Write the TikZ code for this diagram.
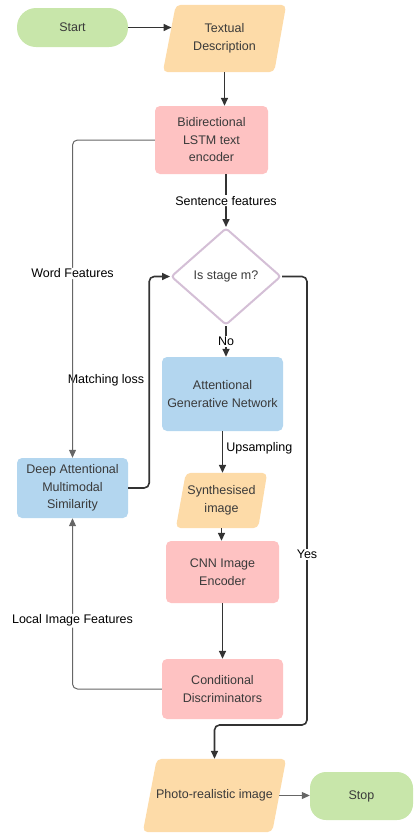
\documentclass[tikz,border=0pt]{standalone}
\usepackage{fontspec}
\setmainfont{Liberation Sans}
\usetikzlibrary{shapes.geometric,arrows.meta,calc,backgrounds}
\definecolor{cgreen}{HTML}{C8E6AA}
\definecolor{corange}{HTML}{FDDBA8}
\definecolor{cpink}{HTML}{FEC2C2}
\definecolor{cblue}{HTML}{B3D6EF}
\definecolor{clav}{HTML}{D4BFD6}
\definecolor{ctext}{HTML}{3A3A3A}
\definecolor{cline}{HTML}{333333}
\begin{document}
\begin{tikzpicture}[x=1pt,y=-1pt,
  base/.style={inner sep=2pt, align=center, text=ctext, font=\fontsize{12.5}{17.5}\selectfont},
  pill/.style={base, rectangle, fill=cgreen, rounded corners=19pt},
  box/.style={base, rectangle, rounded corners=5pt},
  para/.style={base, rectangle},
  parafill/.style={fill=corange, rounded corners=5pt},
  dec/.style={base, diamond, draw=clav, line width=2pt, fill=white, rounded corners=3pt, inner sep=0pt},
  conn/.style={draw=cline, line width=1.6pt, -{Triangle[length=8pt,width=7pt]}, rounded corners=5pt},
  thinconn/.style={draw=cline!75, line width=1pt, -{Triangle[length=8pt,width=7pt]}, rounded corners=5pt},
  lab/.style={font=\fontsize{12.5}{15}\selectfont, text=black, fill=white, inner sep=1pt},
]
\useasboundingbox (0,0) rectangle (413,833);
\node[pill, minimum width=111pt, minimum height=39pt] (start) at (72.5,27.5) {Start};
\node[para, minimum width=123pt, minimum height=67pt] (td) at (224.5,38.5) {Textual\\Description};
\node[box, fill=cpink, minimum width=113pt, minimum height=68pt] (lstm) at (211.5,140) {Bidirectional\\LSTM text\\encoder};
\node[dec, minimum width=110pt, minimum height=97pt] (stage) at (226,276.5) {Is stage m?};
\node[box, fill=cblue, minimum width=121pt, minimum height=74pt] (agn) at (222.5,394) {Attentional\\Generative Network};
\node[para, minimum width=91pt, minimum height=55pt] (syn) at (221.5,500.5) {Synthesised\\image};
\node[box, fill=cpink, minimum width=113pt, minimum height=62pt] (cnn) at (222.5,572) {CNN Image\\Encoder};
\node[box, fill=cpink, minimum width=121pt, minimum height=60pt] (cd) at (222.5,689) {Conditional\\Discriminators};
\node[box, fill=cblue, minimum width=111pt, minimum height=60pt] (dams) at (72.5,488) {Deep Attentional\\Multimodal\\Similarity};
\node[para, minimum width=143pt, minimum height=73pt] (photo) at (214.5,795.5) {Photo-realistic image};
\node[pill, rounded corners=16pt, minimum width=103pt, minimum height=48pt] (stop) at (361.5,796) {Stop};
\node[lab, fill=none] (ml) at (106,380) {Matching loss};
\coordinate (yb) at (307,725);

\begin{pgfonlayer}{background}
\fill[parafill] ([xshift=13pt]td.north west) -- (td.north east) -- ([xshift=-12pt]td.south east) -- (td.south west) -- cycle;
\fill[parafill] ([xshift=10pt]syn.north west) -- (syn.north east) -- ([xshift=-9pt]syn.south east) -- (syn.south west) -- cycle;
\fill[parafill] ([xshift=14pt]photo.north west) -- (photo.north east) -- ([xshift=-14pt]photo.south east) -- (photo.south west) -- cycle;
\end{pgfonlayer}

\draw[conn] (start.east) -- ($(td.west |- start.east)+(8.7,0)$);
\draw[conn] (td.south) -- (td.south |- lstm.north);
\draw[conn] (lstm.south -| stage.north) -- node[lab]{Sentence features} (stage.north);
\draw[conn] (stage.south) -- node[lab]{No} (stage.south |- agn.north);
\draw[conn] (agn.south) -- node[lab, fill=none, anchor=west, pos=0.4, xshift=2pt]{Upsampling} (agn.south |- syn.north);
\draw[conn] (syn.south) -- (syn.south |- cnn.north);
\draw[conn] (cnn.south) -- (cnn.south |- cd.north);
\draw[thinconn] (cd.west) -| node[lab, pos=0.7]{Local Image Features} (dams.south);
\draw[thinconn] (lstm.west) -| node[lab, pos=0.71]{Word Features} (dams.north);
\draw[conn] (dams.east) -- ++(21,0) |- (stage.west);
\draw[conn] (stage.east) -| node[lab, pos=0.81]{Yes} (yb) -| (photo.north);
\draw[thinconn] ($(photo.east)+(-7,0)$) -- (photo.east -| stop.west);
\end{tikzpicture}
\end{document}
